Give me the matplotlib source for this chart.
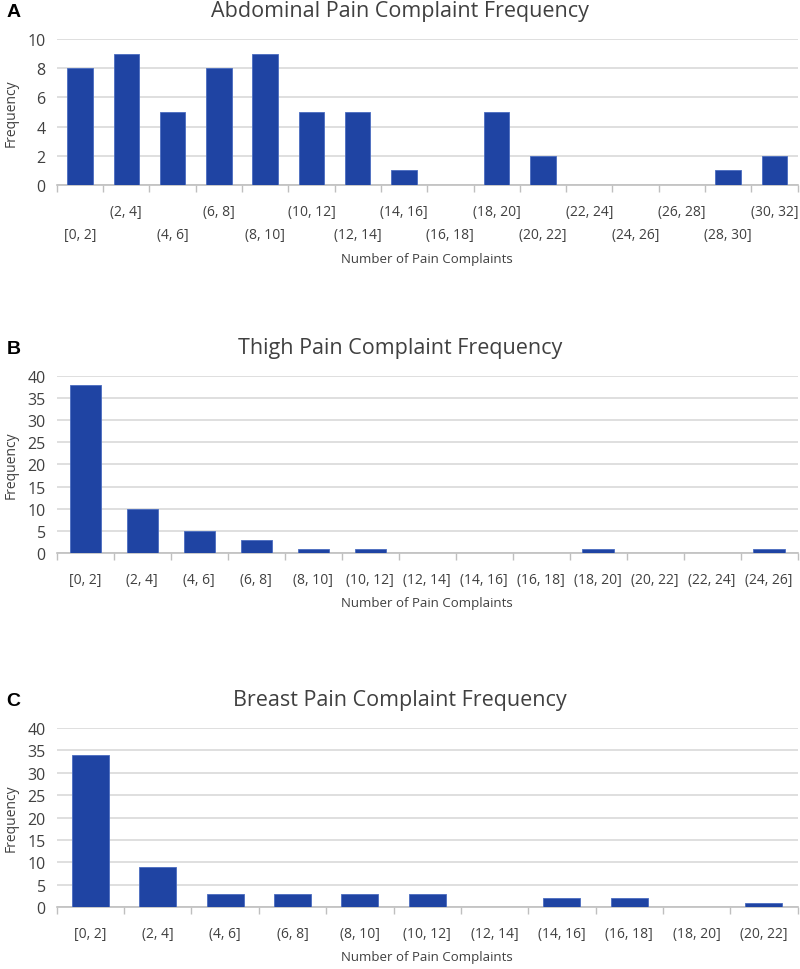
import numpy as np
import matplotlib
matplotlib.use("Agg")
import matplotlib.pyplot as plt

plt.rcParams['font.family'] = ['Open Sans', 'DejaVu Sans']

# data
abd_bins = ['[0, 2]', '(2, 4]', '(4, 6]', '(6, 8]', '(8, 10]', '(10, 12]', '(12, 14]', '(14, 16]',
            '(16, 18]', '(18, 20]', '(20, 22]', '(22, 24]', '(24, 26]', '(26, 28]', '(28, 30]', '(30, 32]']
abd_freq = [8, 9, 5, 8, 9, 5, 5, 1, 0, 5, 2, 0, 0, 0, 1, 2]

thigh_bins = ['[0, 2]', '(2, 4]', '(4, 6]', '(6, 8]', '(8, 10]', '(10, 12]', '(12, 14]',
              '(14, 16]', '(16, 18]', '(18, 20]', '(20, 22]', '(22, 24]', '(24, 26]']
thigh_freq = [38, 10, 5, 3, 1, 1, 0, 0, 0, 1, 0, 0, 1]

breast_bins = ['[0, 2]', '(2, 4]', '(4, 6]', '(6, 8]', '(8, 10]', '(10, 12]', '(12, 14]',
               '(14, 16]', '(16, 18]', '(18, 20]', '(20, 22]']
breast_freq = [34, 9, 3, 3, 3, 3, 0, 2, 2, 0, 1]

BAR = '#1f44a3'
TXT = '#404040'
GRID = '#d9d9d9'


def hist_panel(fig, rect, bins, freq, ymax, ystep, title, letter, stagger=False):
    ax = fig.add_axes(rect)
    x = np.arange(len(bins))
    ax.bar(x, freq, width=0.55, color=BAR, edgecolor='#4a6cc0', linewidth=0.6, zorder=3)
    ax.set_xlim(-0.5, len(bins) - 0.5)
    ax.set_ylim(0, ymax)
    ax.set_yticks(np.arange(0, ymax + 1, ystep))
    ax.yaxis.grid(True, color=GRID, linewidth=1.2, zorder=0)
    for s in ['top', 'right', 'left']:
        ax.spines[s].set_visible(False)
    ax.spines['bottom'].set_color('#bfbfbf')
    ax.spines['bottom'].set_linewidth(1.2)
    ax.tick_params(axis='y', length=0, labelsize=11.5, labelcolor=TXT, pad=8)
    ax.set_xticks(x)
    if stagger:
        labels = [('\n' + b) if i % 2 == 0 else b for i, b in enumerate(bins)]
    else:
        labels = bins
    ax.set_xticklabels(labels, fontsize=10, color=TXT, linespacing=1.75)
    ax.tick_params(axis='x', which='major', length=0, pad=13.5)
    ax.set_xticks(np.arange(-0.5, len(bins)), minor=True)
    ax.tick_params(axis='x', which='minor', length=5, color='#bfbfbf', width=1)
    ax.set_ylabel('Frequency', fontsize=10, color=TXT, labelpad=6)
    ax.set_xlabel('Number of Pain Complaints', fontsize=9.5, color=TXT, labelpad=7)
    # title centred on the whole chart area, not the plot area
    top = rect[1] + rect[3]
    fig.text(0.5, top + 0.019, title, fontsize=15.5, color=TXT, ha='center', va='bottom')
    fig.text(0.008, top + 0.02, letter, fontsize=14, fontweight='bold',
             family=['Liberation Sans', 'DejaVu Sans'], va='bottom')
    return ax


fig = plt.figure(figsize=(8, 9.7), dpi=100)

hist_panel(fig, [0.071, 0.8082, 0.926, 0.1505], abd_bins, abd_freq, 10, 2,
           'Abdominal Pain Complaint Frequency', 'A', stagger=True)
hist_panel(fig, [0.071, 0.4289, 0.926, 0.1825], thigh_bins, thigh_freq, 40, 5,
           'Thigh Pain Complaint Frequency', 'B')
hist_panel(fig, [0.071, 0.0639, 0.926, 0.1845], breast_bins, breast_freq, 40, 5,
           'Breast Pain Complaint Frequency', 'C')

fig.savefig('out.png', dpi=100, facecolor='white')
